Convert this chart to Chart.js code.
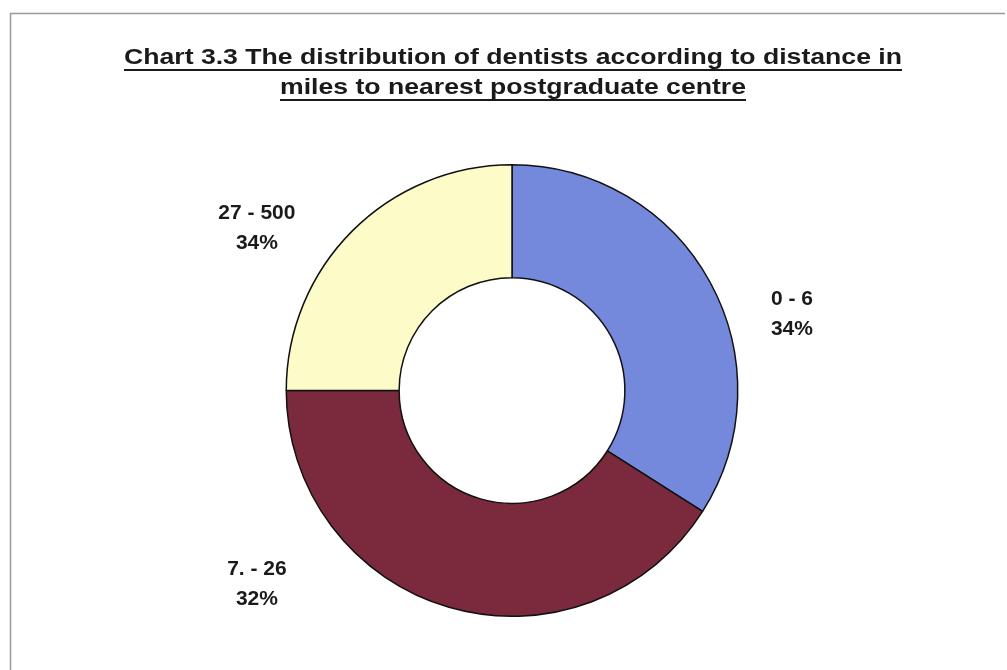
<!DOCTYPE html>
<html>
<head>
<meta charset="utf-8">
<script src="https://cdn.jsdelivr.net/npm/chart.js@4.4.0/dist/chart.umd.min.js"></script>
<style>
  html, body { margin: 0; padding: 0; background: #fff; }
  #wrap { width: 1007px; height: 670px; position: relative; }
</style>
</head>
<body>
<div id="wrap"><canvas id="myChart" width="1007" height="670"></canvas></div>
<script>
// data
var titleLines = ["Chart 3.3 The distribution of dentists according to distance in",
                  "miles to nearest postgraduate centre"];
var categories = ["0 - 6", "7. - 26", "27 - 500"];
var shares = [34, 41, 25];            // slice sizes as drawn
var pctLabels = ["34%", "32%", "34%"]; // percentages as printed on the chart

var colours = ["#7488dc", "#7a2a3c", "#fdfcc8"];
// label anchor offsets, in units of the outer radius, from the centre
var labelOffsets = [[1.24, -0.34], [-1.13, 0.86], [-1.13, -0.72]];

var frame = {
  id: 'frame',
  beforeDraw: function(chart) {
    var c = chart.ctx;
    c.save();
    c.fillStyle = '#fff';
    c.fillRect(0, 0, chart.width, chart.height);
    c.strokeStyle = '#9a9a9a';
    c.lineWidth = 1.5;
    c.beginPath();
    c.moveTo(10.5, 680);
    c.lineTo(10.5, 13.5);
    c.lineTo(1005, 13.5);
    c.stroke();
    c.restore();
  }
};

var titleAndLabels = {
  id: 'titleAndLabels',
  afterDraw: function(chart) {
    var c = chart.ctx;
    c.save();
    c.fillStyle = '#1a1a1a';
    c.strokeStyle = '#1a1a1a';
    c.textAlign = 'center';
    c.textBaseline = 'alphabetic';
    c.font = 'bold 22px "Liberation Sans", Arial, sans-serif';
    var ys = [64, 94];
    var sx = 1.21; // the printed title is set wider than plain Arial
    titleLines.forEach(function(t, i) {
      c.save();
      c.translate(513, ys[i]);
      c.scale(sx, 1);
      c.fillText(t, 0, 0);
      var w = c.measureText(t).width;
      c.lineWidth = 1.8;
      c.beginPath();
      c.moveTo(-w / 2, 6);
      c.lineTo(w / 2, 6);
      c.stroke();
      c.restore();
    });

    var meta = chart.getDatasetMeta(0);
    var arc = meta.data[0];
    var cx = arc.x, cy = arc.y, r = arc.outerRadius;
    c.font = 'bold 21px "Liberation Sans", Arial, sans-serif';
    c.textBaseline = 'middle';
    categories.forEach(function(cat, i) {
      var x = cx + labelOffsets[i][0] * r;
      var y = cy + labelOffsets[i][1] * r;
      c.fillText(cat, x, y - 15);
      c.fillText(pctLabels[i], x, y + 15);
    });
    c.restore();
  }
};

var ctx = document.getElementById("myChart");
var myChart = new Chart(ctx, {
  type: 'doughnut',
  data: {
    labels: categories,
    datasets: [{
      data: shares,
      backgroundColor: colours,
      borderColor: '#111',
      borderWidth: 1.5,
      hoverOffset: 0,
      hoverBorderWidth: 1.5
    }]
  },
  options: {
    responsive: false,
    animation: false,
    cutout: '50%',
    layout: { padding: { left: 249, right: 232, top: 164, bottom: 53 } },
    plugins: {
      legend: { display: false },
      title: { display: false },
      tooltip: { enabled: false }
    }
  },
  plugins: [frame, titleAndLabels]
});
</script>
</body>
</html>
